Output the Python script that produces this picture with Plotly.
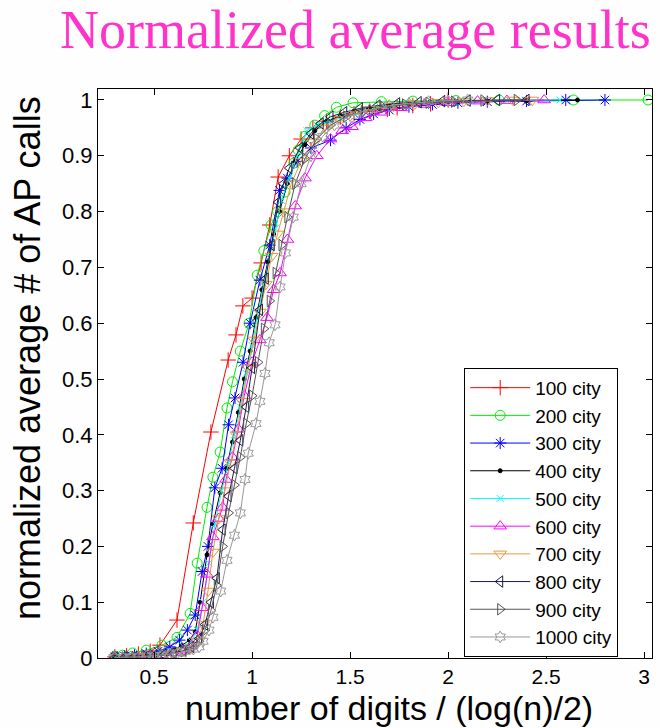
import plotly.graph_objects as go

# ---- data ----
names = ["100 city", "200 city", "300 city", "400 city", "500 city",
         "600 city", "700 city", "800 city", "900 city", "1000 city"]

x100 = [0.30,0.36,0.42,0.48,0.53,0.617,0.70,0.79,0.878,0.918,0.953,1.0,1.046,1.09,1.133,1.19,1.25,1.31,1.38,1.45,1.52,1.60,1.69,1.74,1.82,1.91,2.0]
y100 = [0.002,0.004,0.007,0.012,0.023,0.068,0.242,0.405,0.534,0.579,0.631,0.645,0.708,0.776,0.862,0.90,0.93,0.95,0.962,0.97,0.975,0.98,0.983,0.986,0.99,0.993,1.0]

x200 = [0.30,0.34,0.39,0.46,0.54,0.617,0.684,0.72,0.77,0.80,0.837,0.872,0.90,0.94,0.985,1.026,1.06,1.097,1.13,1.168,1.214,1.235,1.27,1.32,1.37,1.43,1.515,1.66,1.82,2.04,2.26,2.64,3.02]
y200 = [0.003,0.005,0.009,0.014,0.023,0.037,0.08,0.17,0.27,0.324,0.369,0.448,0.495,0.55,0.60,0.686,0.73,0.776,0.80,0.835,0.887,0.91,0.935,0.955,0.972,0.987,0.995,0.997,0.998,0.999,1.0,1.0,1.0]

x300 = [0.30,0.35,0.40,0.46,0.52,0.58,0.63,0.67,0.71,0.745,0.775,0.81,0.847,0.88,0.913,0.954,0.99,1.04,1.09,1.14,1.18,1.23,1.30,1.40,1.48,1.55,1.62,1.70,1.80,1.92,2.05,2.2,2.4,2.6,2.8]
y300 = [0.002,0.003,0.005,0.008,0.012,0.02,0.032,0.05,0.077,0.155,0.2,0.305,0.34,0.418,0.466,0.53,0.6,0.677,0.74,0.838,0.86,0.89,0.914,0.928,0.95,0.965,0.975,0.982,0.988,0.992,0.995,0.997,0.998,1.0,1.0]

x400 = [0.30,0.35,0.40,0.45,0.50,0.55,0.60,0.64,0.68,0.71,0.735,0.77,0.80,0.837,0.87,0.90,0.93,0.96,0.99,1.02,1.05,1.08,1.11,1.14,1.18,1.22,1.27,1.32,1.38,1.45,1.52,1.60,1.70,1.80,1.92,2.05,2.2,2.4,2.66]
y400 = [0.001,0.002,0.003,0.005,0.007,0.01,0.015,0.022,0.032,0.047,0.1,0.185,0.24,0.296,0.34,0.387,0.44,0.5,0.55,0.61,0.66,0.71,0.76,0.80,0.85,0.89,0.92,0.945,0.962,0.972,0.98,0.986,0.99,0.993,0.995,0.997,0.998,0.999,1.0]

x500 = [0.30,0.36,0.42,0.48,0.54,0.60,0.65,0.69,0.72,0.75,0.78,0.81,0.845,0.88,0.91,0.94,0.97,1.00,1.03,1.06,1.09,1.12,1.15,1.19,1.23,1.28,1.33,1.39,1.46,1.54,1.63,1.73,1.85,1.98,2.12,2.3,2.57]
y500 = [0.001,0.002,0.003,0.005,0.008,0.012,0.02,0.03,0.05,0.1,0.17,0.24,0.3,0.35,0.4,0.45,0.51,0.56,0.62,0.67,0.72,0.77,0.82,0.86,0.90,0.945,0.955,0.962,0.968,0.977,0.984,0.99,0.993,0.996,0.998,0.999,1.0]

x600 = [0.30,0.36,0.42,0.48,0.54,0.60,0.65,0.69,0.72,0.745,0.77,0.80,0.83,0.85,0.867,0.90,0.93,0.96,1.00,1.04,1.076,1.11,1.143,1.18,1.22,1.27,1.33,1.40,1.46,1.51,1.58,1.66,1.76,1.88,2.0,2.15,2.3,2.49]
y600 = [0.001,0.002,0.003,0.004,0.006,0.009,0.014,0.022,0.04,0.09,0.15,0.217,0.25,0.27,0.32,0.36,0.41,0.47,0.53,0.57,0.61,0.66,0.69,0.75,0.81,0.86,0.9,0.93,0.945,0.952,0.968,0.978,0.986,0.992,0.995,0.998,0.999,1.0]

x700 = [0.30,0.36,0.42,0.48,0.54,0.60,0.65,0.69,0.72,0.75,0.775,0.80,0.83,0.86,0.89,0.92,0.95,0.98,1.01,1.04,1.07,1.10,1.13,1.16,1.20,1.25,1.31,1.38,1.45,1.53,1.62,1.72,1.83,1.95,2.08,2.2,2.33,2.43]
y700 = [0.001,0.001,0.002,0.003,0.005,0.008,0.012,0.018,0.03,0.06,0.12,0.19,0.25,0.3,0.35,0.4,0.46,0.52,0.57,0.62,0.67,0.72,0.76,0.8,0.85,0.89,0.925,0.95,0.965,0.975,0.983,0.989,0.993,0.996,0.998,0.999,1.0,1.0]

x800 = [0.30,0.35,0.40,0.45,0.50,0.55,0.60,0.65,0.69,0.73,0.76,0.79,0.82,0.85,0.88,0.91,0.94,0.97,1.00,1.04,1.07,1.10,1.133,1.16,1.19,1.245,1.30,1.35,1.40,1.47,1.55,1.64,1.74,1.85,1.97,2.1,2.25,2.4]
y800 = [0.001,0.001,0.002,0.003,0.004,0.006,0.009,0.013,0.02,0.035,0.06,0.1,0.143,0.23,0.29,0.34,0.39,0.45,0.52,0.624,0.68,0.74,0.817,0.85,0.878,0.914,0.94,0.958,0.97,0.978,0.985,0.99,0.994,0.996,0.998,0.999,1.0,1.0]

x900 = [0.30,0.35,0.40,0.45,0.50,0.55,0.60,0.65,0.69,0.73,0.76,0.79,0.82,0.85,0.88,0.91,0.94,0.97,1.00,1.03,1.06,1.09,1.12,1.15,1.18,1.22,1.27,1.33,1.40,1.48,1.57,1.67,1.78,1.90,2.03,2.18,2.35]
y900 = [0.001,0.001,0.002,0.003,0.004,0.005,0.008,0.012,0.018,0.03,0.05,0.085,0.13,0.2,0.26,0.31,0.36,0.42,0.47,0.53,0.59,0.64,0.69,0.74,0.79,0.85,0.895,0.93,0.955,0.97,0.98,0.987,0.992,0.995,0.997,0.999,1.0]

x1000 = [0.30,0.34,0.38,0.42,0.46,0.50,0.54,0.58,0.62,0.66,0.70,0.73,0.75,0.78,0.80,0.84,0.872,0.91,0.94,0.964,0.98,1.02,1.04,1.066,1.087,1.117,1.143,1.17,1.21,1.25,1.30,1.36,1.42,1.50,1.60,1.70,1.80,1.90,2.0,2.1]
y1000 = [0.001,0.001,0.002,0.002,0.003,0.004,0.005,0.007,0.009,0.012,0.016,0.02,0.03,0.05,0.073,0.12,0.175,0.22,0.26,0.32,0.367,0.42,0.46,0.51,0.565,0.597,0.665,0.726,0.79,0.85,0.9,0.935,0.955,0.972,0.983,0.99,0.994,0.997,0.999,1.0]

xs = [x100, x200, x300, x400, x500, x600, x700, x800, x900, x1000]
ys = [y100, y200, y300, y400, y500, y600, y700, y800, y900, y1000]

colors = ["#ff0000", "#00ee00", "#0000ff", "#000000", "#00ffff",
          "#ff00ff", "#e8983c", "#1c1c48", "#555555", "#999999"]
symbols = ["cross-thin-open", "circle-open", "asterisk-open", "circle", "x-thin-open",
           "triangle-up-open", "triangle-down-open", "triangle-left-open",
           "triangle-right-open", "hexagram-open"]
sizes = [11, 10, 10, 4, 7, 11, 11, 10, 10, 9]

x_ticks = [0.5, 1, 1.5, 2, 2.5, 3]
x_ticktext = ["0.5", "1", "1.5", "2", "2.5", "3"]
y_ticks = [0, 0.1, 0.2, 0.3, 0.4, 0.5, 0.6, 0.7, 0.8, 0.9, 1]
y_ticktext = ["0", "0.1", "0.2", "0.3", "0.4", "0.5", "0.6", "0.7", "0.8", "0.9", "1"]

fig = go.Figure()
for n, x, y, c, s, sz in zip(names, xs, ys, colors, symbols, sizes):
    fig.add_trace(go.Scatter(
        x=x, y=y, name=n, mode="lines+markers",
        line=dict(color=c, width=1),
        marker=dict(symbol=s, size=sz, color=c, line=dict(color=c, width=1)),
    ))

sans = "Arial, Liberation Sans, sans-serif"

fig.update_layout(
    width=660, height=728,
    margin=dict(l=98, r=8, t=89, b=70),
    paper_bgcolor="#fefefe",
    plot_bgcolor="white",
    showlegend=True,
    legend=dict(
        x=0.661, y=0.51, xanchor="left", yanchor="top",
        bgcolor="white", bordercolor="black", borderwidth=1,
        font=dict(family=sans, size=19, color="black"),
        tracegroupgap=0, itemwidth=60,
    ),
    xaxis=dict(
        range=[0.214, 3.04], tickvals=x_ticks, ticktext=x_ticktext,
        ticks="inside", ticklen=6, tickcolor="black", mirror="ticks",
        showline=True, linecolor="black", linewidth=1, showgrid=False, zeroline=False,
        tickfont=dict(family=sans, size=21, color="black"),
    ),
    yaxis=dict(
        range=[0, 1.0197], tickvals=y_ticks, ticktext=y_ticktext,
        ticks="inside", ticklen=6, tickcolor="black", mirror="ticks",
        showline=True, linecolor="black", linewidth=1, showgrid=False, zeroline=False,
        tickfont=dict(family=sans, size=22, color="black"),
    ),
)

fig.add_annotation(text="Normalized average results", xref="paper", yref="paper",
                   x=(355 - 98) / 554, y=1 + (89 - 30) / 569, xanchor="center", yanchor="middle",
                   showarrow=False,
                   font=dict(family="Liberation Serif, Times New Roman, serif", size=54, color="#ff33cc"))
fig.add_annotation(text="number of digits / (log(n)/2)", xref="paper", yref="paper",
                   x=(389 - 98) / 554, y=-(708 - 658) / 569, xanchor="center", yanchor="middle",
                   showarrow=False,
                   font=dict(family=sans, size=34, color="black"))
fig.add_annotation(text="normalized average # of AP calls", xref="paper", yref="paper",
                   x=-(98 - 27) / 554, y=(658 - 358) / 569, xanchor="center", yanchor="middle",
                   textangle=-90, showarrow=False,
                   font=dict(family=sans, size=36, color="black"))

fig.write_html("out.html")
